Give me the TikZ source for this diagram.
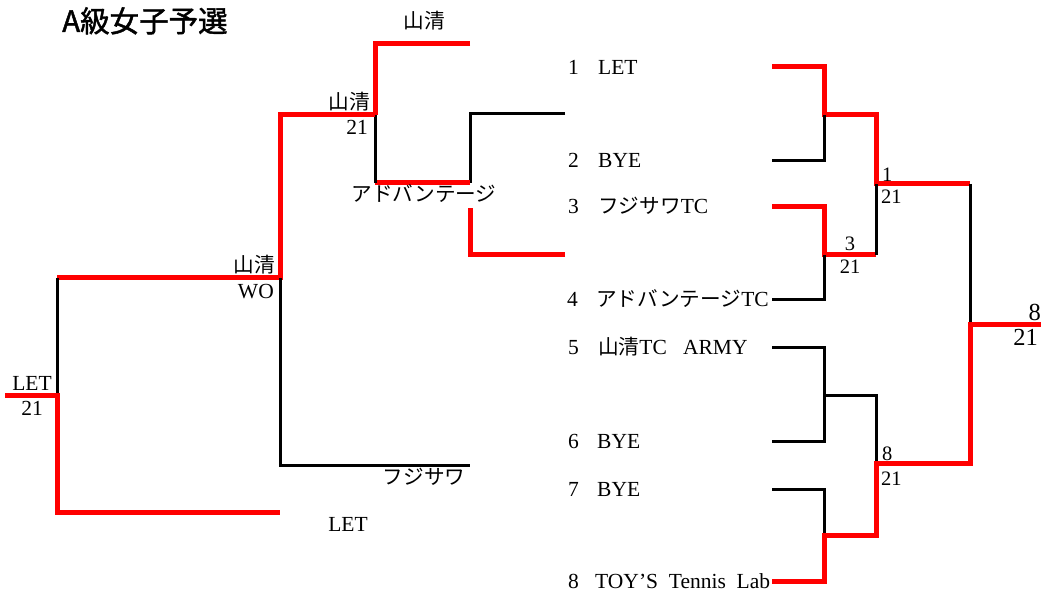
\documentclass[tikz,border=0pt]{standalone}
\usepackage{fontspec}
\setmainfont{Liberation Serif}
\newfontfamily\cjk{Noto Sans CJK JP}[Scale=0.96]
\newfontfamily\cjktitle{Noto Sans CJK JP}[FakeBold=1.5]
\usetikzlibrary{positioning}

\begin{document}
\begin{tikzpicture}[
    x=1pt, y=-1pt,
    % winner path and plain bracket lines
    win/.style={draw=red, line width=5pt},
    lose/.style={draw=black, line width=3pt},
    team/.style={inner sep=0pt, font=\fontsize{21.5}{24}\selectfont},
    score/.style={inner sep=0pt, font=\fontsize{20.5}{22}\selectfont},
    entry/.style={team, anchor=base west},
  ]
  \useasboundingbox (0,0) rectangle (1041,593);

  \node[anchor=base west, inner sep=0pt, font=\fontsize{29.5}{32}\cjktitle] (title) at (62,32) {A級女子予選};

  % left bracket
  \coordinate (l1) at (565,114);
  \coordinate (l2) at (565,255);
  \coordinate (a1) at (470,183);
  \coordinate (a2) at (470,208);
  \coordinate (t0) at (470,44);
  \coordinate (b1) at (375,115);
  \coordinate (c1) at (280,278);
  \coordinate (t3) at (470,465);
  \coordinate (d1) at (57,395);
  \coordinate (lout) at (5,395);
  \coordinate (t4) at (280,512);

  \draw[lose] (l1) -| (a1);
  \draw[win] (l2) -| (a2);
  \draw[win] (t0) -| (b1);
  \draw[win] (a1) -- (a1 -| b1);
  \draw[lose] (a1 -| b1) -- (b1);
  \draw[win] (b1) -| (c1) -- (c1 -| d1);
  \draw[lose] (c1) |- (t3);
  \draw[lose] (c1 -| d1) -- (d1);
  \draw[win] (lout) -- (d1) |- (t4);

  \node[team, anchor=base] (top) at (424,29) {\cjk 山清};
  \node[team, anchor=base east] (wb) at (370,110) {\cjk 山清};
  \node[team, anchor=base east] (wbs) at (368,135) {21};
  \node[team, anchor=base] (adv) at (424,202) {\cjk アドバンテージ};
  \node[team, anchor=base east] (wc) at (275,273) {\cjk 山清};
  \node[team, anchor=base east] (wcs) at (274,299) {WO};
  \node[team, anchor=base] (wd) at (32,390) {LET};
  \node[team, anchor=base] (wds) at (32,415) {21};
  \node[team, anchor=base] (fuj) at (424,484) {\cjk フジサワ};
  \node[team, anchor=base] (let) at (348,531) {LET};

  % right bracket
  \coordinate (e1) at (772,67);
  \coordinate (e2) at (772,161);
  \coordinate (e3) at (772,207);
  \coordinate (e4) at (772,300);
  \coordinate (e5) at (772,348);
  \coordinate (e6) at (772,441);
  \coordinate (e7) at (772,489);
  \coordinate (e8) at (772,581);
  \coordinate (m12) at (824,115);
  \coordinate (m34) at (824,255);
  \coordinate (m56) at (824,395);
  \coordinate (m78) at (824,535);
  \coordinate (s1) at (876,184);
  \coordinate (s2) at (876,463);
  \coordinate (f) at (970,325);
  \coordinate (champ) at (1041,325);

  \draw[win] (e1) -| (m12) -| (s1) -- (s1 -| f);
  \draw[lose] (e2) -| (m12);
  \draw[win] (e3) -| (m34) -- (m34 -| s1);
  \draw[lose] (m34 -| s1) -- (s1);
  \draw[lose] (e4) -| (m34);
  \draw[lose] (s1 -| f) -- (f);
  \draw[lose] (e5) -| (m56) |- (e6);
  \draw[lose] (m56) -| (s2);
  \draw[lose] (e7) -| (m78);
  \draw[win] (e8) -| (m78) -| (s2) -| (f) -- (champ);

  \node[entry] (n1) at (568,75) {\makebox[30pt][l]{1}LET};
  \node[entry] (n2) at (568,168) {\makebox[30pt][l]{2}BYE};
  \node[entry] (n3) at (568,214) {\makebox[30pt][l]{3}{\cjk フジサワ}TC};
  \node[entry] (n4) at (567,307) {\makebox[29pt][l]{4}{\cjk アドバンテージ}TC};
  \node[entry] (n5) at (568,355) {\makebox[30pt][l]{5}{\cjk 山清}TC\hspace{0.75em}ARMY};
  \node[entry] (n6) at (568,448) {\makebox[29pt][l]{6}BYE};
  \node[entry] (n7) at (568,496) {\makebox[29pt][l]{7}BYE};
  \node[entry] (n8) at (568,588) {\makebox[27pt][l]{8}TOY’S\hspace{0.5em}Tennis\hspace{0.5em}Lab};

  \node[score, anchor=base west] (r1) at (882,182) {1};
  \node[score, anchor=base west] (r1s) at (881,204) {21};
  \node[score, anchor=base] (r3) at (850,251) {3};
  \node[score, anchor=base] (r3s) at (850,274) {21};
  \node[score, anchor=base west] (r8) at (882,460) {8};
  \node[score, anchor=base west] (r8s) at (881,485) {21};
  \node[team, anchor=base east, font=\fontsize{24.5}{26}\selectfont] (fin) at (1041,321) {8};
  \node[team, anchor=base east, font=\fontsize{24.5}{26}\selectfont] (fins) at (1038,345) {21};
\end{tikzpicture}
\end{document}
